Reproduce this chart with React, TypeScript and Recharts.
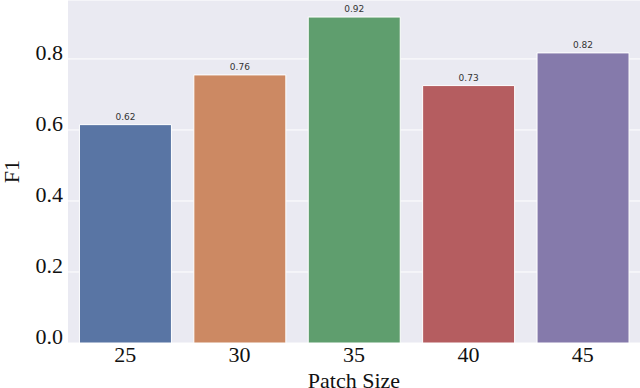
import { BarChart, Bar, XAxis, YAxis, CartesianGrid, Cell, LabelList } from "recharts";

// patch size experiment, F1 per setting
const patchSizes = ["25", "30", "35", "40", "45"];
const f1Scores = [0.615, 0.755, 0.918, 0.725, 0.817];
const valueLabels = ["0.62", "0.76", "0.92", "0.73", "0.82"];
const yTicks = [0, 0.2, 0.4, 0.6, 0.8];
const barColors = ["#5975A4", "#CC8963", "#5F9E6E", "#B55D60", "#857AAB"];

const serif = "Liberation Serif";

export default function App() {
  const chartData = patchSizes.map((size, i) => ({
    size,
    f1: f1Scores[i],
    label: valueLabels[i],
  }));

  return (
    <div
      style={{
        position: "absolute",
        left: 0,
        top: 0,
        width: 640,
        height: 388,
        background: "#fff",
        fontFamily: serif,
      }}
    >
      <BarChart
        width={640}
        height={388}
        data={chartData}
        margin={{ top: 0, right: 0, left: 0, bottom: 0 }}
        barCategoryGap="10%"
        style={{ fontFamily: serif }}
      >
        <CartesianGrid
          vertical={false}
          stroke="#ffffff"
          strokeWidth={1}
          fill="#EAEAF2"
          fillOpacity={1}
        />
        <XAxis
          dataKey="size"
          height={45}
          tickLine={false}
          axisLine={false}
          tickSize={0}
          tickMargin={3}
          tick={{ fill: "#111", fontSize: 22, fontFamily: serif }}
          label={{
            value: "Patch Size",
            position: "insideBottom",
            offset: 0,
            style: { fill: "#111", fontSize: 22, fontFamily: serif },
          }}
        />
        <YAxis
          width={68}
          domain={[0, 0.966]}
          ticks={yTicks}
          allowDataOverflow
          tickLine={false}
          axisLine={false}
          tickSize={0}
          tickMargin={5}
          tickFormatter={(v: number) => v.toFixed(1)}
          tick={{ fill: "#111", fontSize: 22, fontFamily: serif, dy: -7 }}
          label={{
            value: "F1",
            angle: -90,
            position: "insideLeft",
            offset: 11,
            style: { fill: "#111", fontSize: 22, fontFamily: serif, textAnchor: "middle" },
          }}
        />
        <Bar dataKey="f1" stroke="#ffffff" strokeWidth={1} isAnimationActive={false}>
          {chartData.map((d, i) => (
            <Cell key={d.size} fill={barColors[i]} />
          ))}
          <LabelList
            dataKey="label"
            position="top"
            offset={5}
            style={{ fill: "#333", fontSize: 9, fontFamily: "DejaVu Sans" }}
          />
        </Bar>
      </BarChart>
    </div>
  );
}
